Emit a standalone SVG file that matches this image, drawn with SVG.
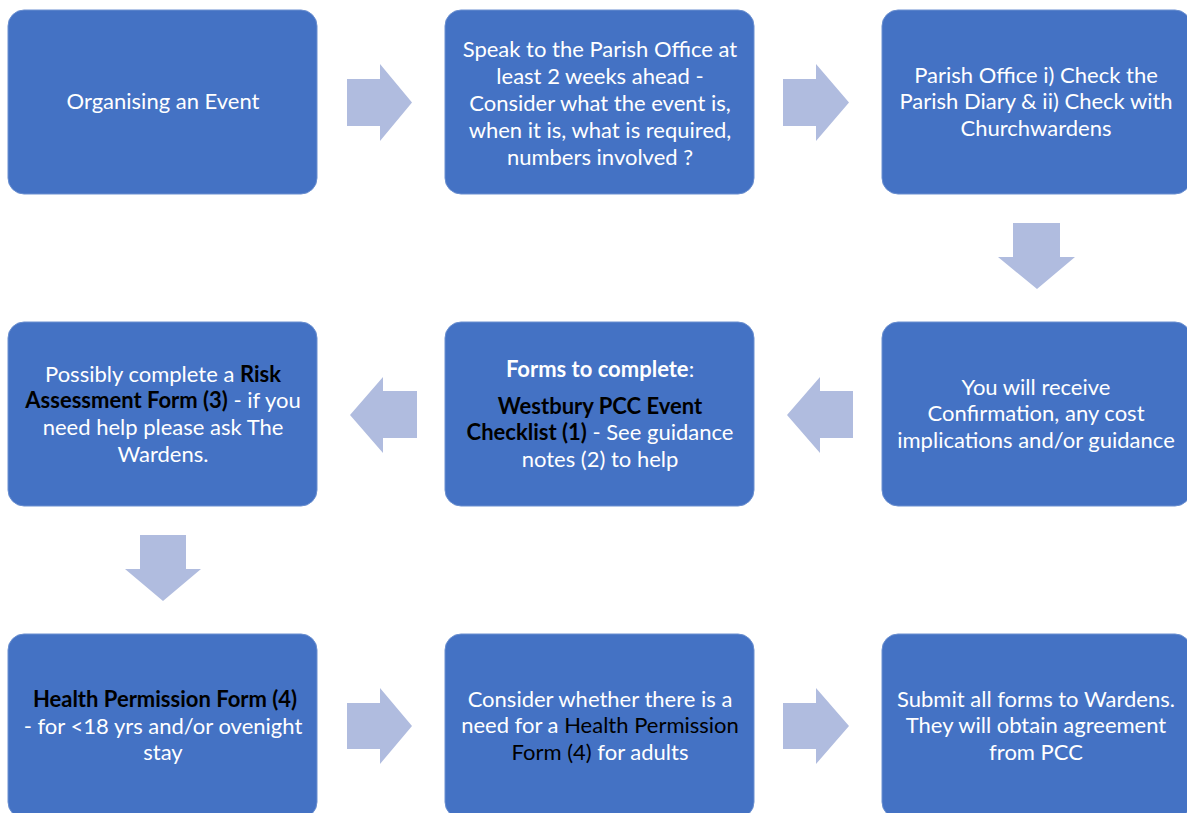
<svg xmlns="http://www.w3.org/2000/svg" width="1187" height="813" viewBox="0 0 1187 813">
<style>
.box{fill:#4472C4;stroke:#6A8FD0;stroke-width:1}
.arr{fill:#B0BCDF}
text{font-family:Lato,"Liberation Sans",sans-serif;font-size:22px;fill:#FFFFFF;text-anchor:middle}
.b{font-weight:bold}
.k{fill:#000000}
</style>
<rect width="1187" height="813" fill="#FFFFFF"/>
<g id="connectors">
<path class="arr" d="M347,79 H380 V64 L412,102.5 L380,141 V126 H347 Z"/>
<path class="arr" d="M783,79 H816 V64 L849,102.5 L816,141 V126 H783 Z"/>
<path class="arr" d="M1013,223 H1060 V257 H1075 L1037,289 L998,257 H1013 Z"/>
<path class="arr" d="M853,391 H820 V377 L787,415 L820,453 V438 H853 Z"/>
<path class="arr" d="M417,391 H383 V377 L350,415 L383,453 V438 H417 Z"/>
<path class="arr" d="M140,535 H186 V569 H201 L163,601 L125,569 H140 Z"/>
<path class="arr" d="M347,703 H380 V688 L412,726 L380,764 V749 H347 Z"/>
<path class="arr" d="M783,703 H816 V688 L849,726 L816,764 V749 H783 Z"/>
</g>
<g id="n1"><rect class="box" x="8" y="10" width="309" height="184" rx="16"/>
<text x="163" y="109">Organising an Event</text></g>
<g id="n2"><rect class="box" x="445" y="10" width="309" height="184" rx="16"/>
<text x="600" y="57">Speak to the Parish Office at</text>
<text x="600" y="84">least 2 weeks ahead -</text>
<text x="600" y="111">Consider what the event is,</text>
<text x="600" y="138">when it is, what is required,</text>
<text x="600" y="165">numbers involved ?</text></g>
<g id="n3"><rect class="box" x="882" y="10" width="309" height="184" rx="16"/>
<text x="1036" y="83">Parish Office i) Check the</text>
<text x="1036" y="109">Parish Diary &amp; ii) Check with</text>
<text x="1036" y="136">Churchwardens</text></g>
<g id="n4"><rect class="box" x="882" y="322" width="309" height="184" rx="16"/>
<text x="1036" y="395">You will receive</text>
<text x="1036" y="421">Confirmation, any cost</text>
<text x="1036" y="448">implications and/or guidance</text></g>
<g id="n5"><rect class="box" x="445" y="322" width="309" height="184" rx="16"/>
<text x="600" y="377"><tspan class="b">Forms to complete</tspan>:</text>
<text x="600" y="414" class="b k">Westbury PCC Event</text>
<text x="600" y="440"><tspan class="b k">Checklist (1)</tspan> - See guidance</text>
<text x="600" y="467">notes (2) to help</text></g>
<g id="n6"><rect class="box" x="8" y="322" width="309" height="184" rx="16"/>
<text x="163" y="382">Possibly complete a <tspan class="b k">Risk</tspan></text>
<text x="163" y="408"><tspan class="b k">Assessment Form (3)</tspan> - if you</text>
<text x="163" y="435">need help please ask The</text>
<text x="163" y="462">Wardens.</text></g>
<g id="n7"><rect class="box" x="8" y="634" width="309" height="184" rx="16"/>
<text x="165" y="707" class="b k">Health Permission Form (4)</text>
<text x="163" y="734">- for &lt;18 yrs and/or ovenight</text>
<text x="163" y="760">stay</text></g>
<g id="n8"><rect class="box" x="445" y="634" width="309" height="184" rx="16"/>
<text x="600" y="707">Consider whether there is a</text>
<text x="600" y="733">need for a <tspan class="k">Health Permission</tspan></text>
<text x="600" y="760"><tspan class="k">Form (4)</tspan> for adults</text></g>
<g id="n9"><rect class="box" x="882" y="634" width="309" height="184" rx="16"/>
<text x="1036" y="707">Submit all forms to Wardens.</text>
<text x="1036" y="733">They will obtain agreement</text>
<text x="1036" y="760">from PCC</text></g>
</svg>
